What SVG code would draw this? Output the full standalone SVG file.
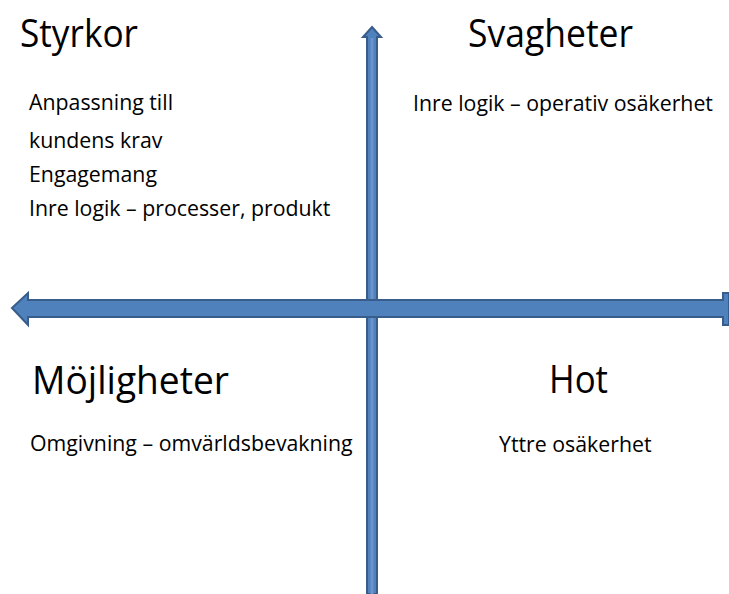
<svg xmlns="http://www.w3.org/2000/svg" width="729" height="594" viewBox="0 0 729 594">
<style>
.h{font-family:"Open Sans","Liberation Sans",sans-serif;font-size:38px;fill:#000}
.t{font-family:"Open Sans","Liberation Sans",sans-serif;font-size:21.3px;fill:#000}
.ar{fill:#4F81BD;stroke:#385D8A;stroke-width:2}
</style>
<rect width="729" height="594" fill="#fff"/>
<g id="connectors">
<path class="ar" d="M372,27 L381,37 L377,37 L377,594 L367,594 L367,37 L363,37 Z"/>
<line x1="372" y1="38" x2="372" y2="594" stroke="#6A95CC" stroke-width="3"/>
<path class="ar" d="M12,308 L28,293 L28,300 L723,300 L723,293 L729,293 L729,325 L723,325 L723,317 L28,317 L28,325 Z"/>
</g>
<g id="styrkor">
<text class="h" x="20" y="47" textLength="118" lengthAdjust="spacingAndGlyphs">Styrkor</text>
<text class="t" x="29" y="110">Anpassning till</text>
<text class="t" x="29" y="148">kundens krav</text>
<text class="t" x="29" y="182">Engagemang</text>
<text class="t" x="29" y="216">Inre logik – processer, produkt</text>
</g>
<g id="svagheter">
<text class="h" x="468" y="47" textLength="165" lengthAdjust="spacingAndGlyphs">Svagheter</text>
<text class="t" x="413" y="111">Inre logik – operativ osäkerhet</text>
</g>
<g id="mojligheter">
<text class="h" x="32" y="394" textLength="197" lengthAdjust="spacingAndGlyphs">Möjligheter</text>
<text class="t" x="30" y="451">Omgivning – omvärldsbevakning</text>
</g>
<g id="hot">
<text class="h" x="549" y="393" textLength="59" lengthAdjust="spacingAndGlyphs">Hot</text>
<text class="t" x="499" y="452">Yttre osäkerhet</text>
</g>
</svg>
